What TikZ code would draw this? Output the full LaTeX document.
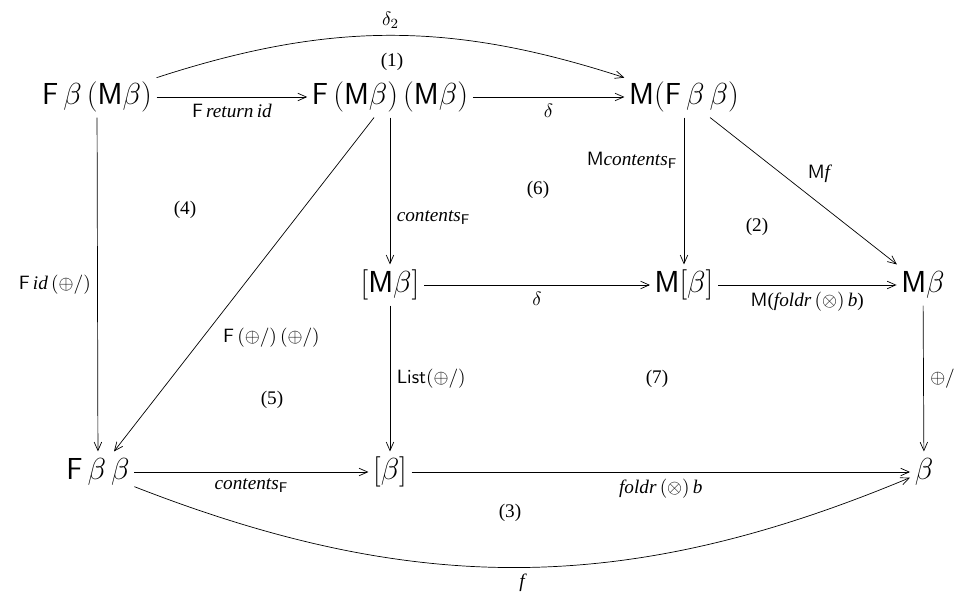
\documentclass[tikz,border=0pt,11pt]{standalone}
\usepackage{amsmath,amssymb}
\usepackage[no-math]{fontspec}
\setmainfont{Liberation Serif}
\usepackage{tikz}
\usetikzlibrary{arrows.meta,positioning}

\begin{document}
\begin{tikzpicture}[
    obj/.style={inner sep=2.5pt, font=\fontsize{18}{22}\selectfont,
                text height=13.5pt, text depth=4.5pt},
    arr/.style={-{Straight Barb[length=1.7mm,width=1.5mm]}},
    lbl/.style={font=\normalsize},
    region/.style={font=\normalsize},
  ]
  \useasboundingbox (0,0) rectangle (19.16,12);

  % Objects
  \node[obj] (A) at (1.94, 10.06) {$\mathsf{F}\,\beta\,(\mathsf{M}\beta)$};
  \node[obj] (B) at (7.8, 10.06) {$\mathsf{F}\,(\mathsf{M}\beta)\,(\mathsf{M}\beta)$};
  \node[obj] (C) at (13.68, 10.06) {$\mathsf{M}(\mathsf{F}\,\beta\,\beta)$};
  \node[obj] (D) at (7.8, 6.3) {$[\mathsf{M}\beta]$};
  \node[obj] (E) at (13.68, 6.3) {$\mathsf{M}[\beta]$};
  \node[obj] (G) at (18.46, 6.3) {$\mathsf{M}\beta$};
  \node[obj] (H) at (1.96, 2.56) {$\mathsf{F}\,\beta\,\beta$};
  \node[obj] (I) at (7.8, 2.56) {$[\beta]$};
  \node[obj] (J) at (18.48, 2.56) {$\beta$};

  % Top row
  \draw[arr] (A) -- node[lbl, below] {\textsf{F}\,\textit{return\,id}} (B);
  \draw[arr] (B) -- node[lbl, below] {$\delta$} (C);
  \draw[arr] (A) to[bend left=18] node[lbl, above] {$\delta_2$} (C);

  % Downward arrows
  \draw[arr] (A) -- node[lbl, left] {\textsf{F}\,\textit{id}\,$(\oplus/)$} (H);
  \draw[arr] (B) -- node[lbl, pos=0.66, right=0.28cm]
    {$\mathsf{F}\,(\oplus/)\,(\oplus/)$} (H);
  \draw[arr] (B) -- node[lbl, pos=0.68, right] {\textit{contents}$_{\mathsf{F}}$} (D);
  \draw[arr] (C) -- node[lbl, pos=0.29, left]
    {\textsf{M}\textit{contents}$_{\mathsf{F}}$} (E);
  \draw[arr] (C) -- node[lbl, pos=0.38, right=0.4cm] {\textsf{M}\textit{f}} (G);
  \draw[arr] (D) -- node[lbl, right] {$\mathsf{List}(\oplus/)$} (I);
  \draw[arr] (G) -- node[lbl, right] {$\oplus/$} (J);

  % Middle row
  \draw[arr] (D) -- node[lbl, below] {$\delta$} (E);
  \draw[arr] (E) -- node[lbl, below]
    {\textsf{M}(\textit{foldr}\,$(\otimes)$\,\textit{b})} (G);

  % Bottom row
  \draw[arr] (H) -- node[lbl, below] {\textit{contents}$_{\mathsf{F}}$} (I);
  \draw[arr] (I) -- node[lbl, below] {\textit{foldr}\,$(\otimes)$\,\textit{b}} (J);
  \draw[arr] (H) to[bend right=22] node[lbl, below] {\textit{f}} (J);

  % Region numbers
  \foreach \k/\x/\y in {1/7.84/10.76, 2/15.14/7.46, 3/10.2/1.74, 4/3.7/7.8,
                        5/5.44/4.0, 6/10.76/8.2, 7/13.14/4.42}
    \node[region] (r\k) at (\x, \y) {(\k)};
\end{tikzpicture}
\end{document}
